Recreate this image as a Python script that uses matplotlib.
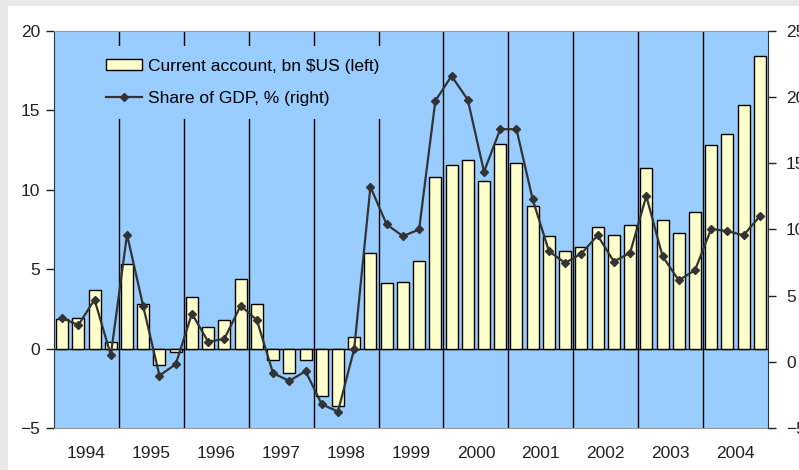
#!/usr/bin/env python
"""current account balance and share of GDP, quarterly 1994-2004"""

import numpy as np
import matplotlib
matplotlib.use("Agg")
from matplotlib import pyplot as plt
from matplotlib.patches import Rectangle

plt.rcParams['font.family'] = ['Liberation Sans', 'DejaVu Sans']

years = [str(y) for y in range(1994, 2005)]

# current account, bn $US (left axis), one value per quarter
current_account = [
    1.85, 1.92, 3.68, 0.44,
    5.35, 2.80, -1.01, -0.20,
    3.24, 1.39, 1.83, 4.38,
    2.78, -0.74, -1.52, -0.74,
    -2.99, -3.64, 0.76, 6.04,
    4.13, 4.21, 5.52, 10.80,
    11.58, 11.85, 10.54, 12.90,
    11.68, 8.97, 7.11, 6.15,
    6.40, 7.64, 7.18, 7.81,
    11.39, 8.12, 7.28, 8.61,
    12.82, 13.49, 15.34, 18.44,
]

# share of GDP, % (right axis)
gdp_share = [
    3.31, 2.78, 4.70, 0.51,
    9.62, 4.19, -1.04, -0.18,
    3.64, 1.52, 1.74, 4.24,
    3.16, -0.86, -1.44, -0.71,
    -3.21, -3.76, 0.98, 13.23,
    10.38, 9.50, 10.00, 19.72,
    21.60, 19.80, 14.37, 17.58,
    17.58, 12.27, 8.36, 7.47,
    8.18, 9.55, 7.58, 8.23,
    12.53, 7.98, 6.16, 6.92,
    10.05, 9.87, 9.57, 11.01,
]

blue = '#99ccff'
yellow = '#ffffcc'
dark = '#333333'
fs = 12.5

fig = plt.figure(figsize=(7.99, 4.70), dpi=100, facecolor='white')
# thin grey frame on top and left, like the screenshot
fig.patches.append(Rectangle((0, 0), 8 / 799, 1, transform=fig.transFigure,
                             facecolor='#e8e8e8', edgecolor='none', zorder=-10))
fig.patches.append(Rectangle((0, 1 - 6 / 470), 1, 6 / 470, transform=fig.transFigure,
                             facecolor='#e8e8e8', edgecolor='none', zorder=-10))

ax = fig.add_axes([54 / 799, 42 / 470, 714 / 799, 397 / 470])
ax.set_facecolor(blue)
x = np.arange(len(current_account))

bars = ax.bar(x, current_account, width=0.74, color=yellow, edgecolor='black',
              linewidth=1, zorder=3, label='Current account, bn $US (left)')
ax.axhline(0, color='black', lw=1, zorder=2)
for b in range(4, len(x), 4):
    ax.axvline(b - 0.5, color='black', lw=1, zorder=1)

ax.set_xlim(-0.5, len(x) - 0.5)
ax.set_ylim(-5, 20)
ax.set_yticks(range(-5, 21, 5))
ax.set_xticks(np.arange(len(years)) * 4 + 1.5)
ax.set_xticklabels(years)
ax.tick_params(axis='x', length=0, pad=13, labelsize=fs, colors='#222222')
ax.tick_params(axis='y', length=6, width=1, pad=4, labelsize=fs, colors='#222222')
ax.spines['top'].set_color('#999999')
ax.spines['bottom'].set_color('#999999')
ax.spines['left'].set_color(dark)
ax.spines['right'].set_visible(False)

ax2 = ax.twinx()
line, = ax2.plot(x, gdp_share, color=dark, lw=1.6, marker='D', markersize=4.5,
                 zorder=4, label='Share of GDP, % (right)')
ax2.set_ylim(-5, 25)
ax2.set_yticks(range(-5, 26, 5))
ax2.tick_params(axis='y', length=6, width=1, pad=7, labelsize=fs, colors='#222222')
ax2.spines['right'].set_color(dark)
for s in ('top', 'bottom', 'left'):
    ax2.spines[s].set_visible(False)

leg = ax2.legend([bars, line], [bars.get_label(), line.get_label()],
                 loc='upper left', bbox_to_anchor=(0.054, 0.962), frameon=True,
                 facecolor=blue, edgecolor='none', framealpha=1, fancybox=False,
                 fontsize=fs, handlelength=2.1, handleheight=0.6, handletextpad=0.35,
                 labelspacing=0.95, borderpad=0.75, borderaxespad=0)
leg.set_zorder(5)

fig.savefig('out.png', dpi=100, facecolor=fig.get_facecolor())
